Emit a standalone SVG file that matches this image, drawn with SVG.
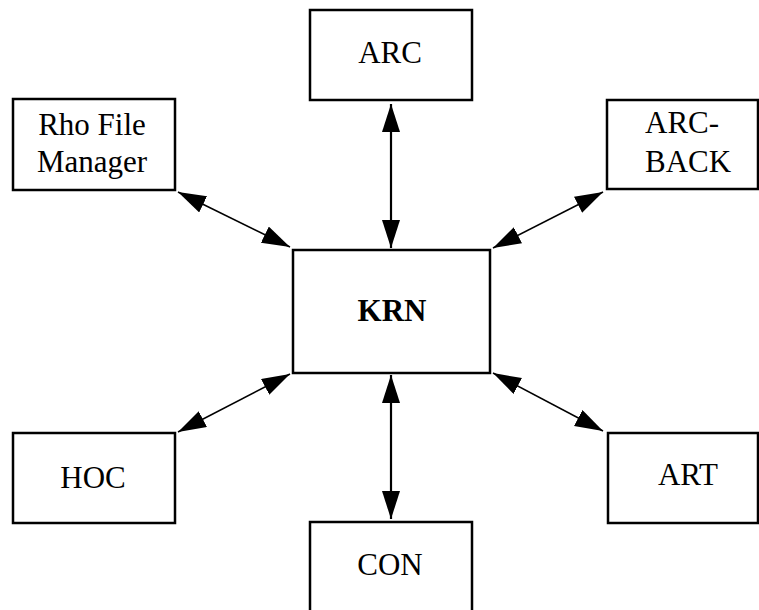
<svg xmlns="http://www.w3.org/2000/svg" width="759" height="610" viewBox="0 0 759 610">
  <style>
    .box { fill: #fff; stroke: #000; stroke-width: 2.5; }
    .lbl { font-family: "Liberation Serif", "Times New Roman", serif; font-size: 31px; fill: #000; }
    .mid { text-anchor: middle; }
    .bold { font-weight: bold; }
    .link { stroke: #000; stroke-width: 1.6; fill: none; marker-start: url(#head); marker-end: url(#head); }
    .vert { stroke-width: 2.2; }
  </style>
  <defs>
    <marker id="head" markerUnits="userSpaceOnUse" markerWidth="30" markerHeight="20" refX="28" refY="9" orient="auto-start-reverse">
      <path d="M0,0 L28,9 L0,18 z" fill="#000"/>
    </marker>
  </defs>
  <rect width="759" height="610" fill="#fff"/>

  <g id="connectors">
    <line class="link vert" x1="391" y1="104" x2="391" y2="248"/>
    <line class="link" x1="178" y1="192" x2="290" y2="247"/>
    <line class="link" x1="603" y1="192" x2="493" y2="248"/>
    <line class="link" x1="290" y1="374" x2="178" y2="432"/>
    <line class="link" x1="493" y1="373" x2="603" y2="431"/>
    <line class="link vert" x1="391" y1="375" x2="391" y2="519"/>
  </g>

  <g id="ARC">
    <rect class="box" x="310" y="10" width="162" height="90"/>
    <text class="lbl mid" x="390" y="63">ARC</text>
  </g>
  <g id="RhoFileManager">
    <rect class="box" x="13" y="99" width="162" height="91"/>
    <text class="lbl mid" x="92" y="135">Rho File</text>
    <text class="lbl mid" x="92" y="172">Manager</text>
  </g>
  <g id="ARC-BACK">
    <rect class="box" x="607" y="100" width="151" height="89"/>
    <text class="lbl" x="645" y="133">ARC-</text>
    <text class="lbl" x="645" y="172">BACK</text>
  </g>
  <g id="KRN">
    <rect class="box" x="293" y="250" width="197" height="123"/>
    <text class="lbl mid bold" x="392" y="321">KRN</text>
  </g>
  <g id="HOC">
    <rect class="box" x="13" y="433" width="162" height="90"/>
    <text class="lbl mid" x="93" y="488">HOC</text>
  </g>
  <g id="ART">
    <rect class="box" x="608" y="433" width="150" height="90"/>
    <text class="lbl mid" x="688" y="485">ART</text>
  </g>
  <g id="CON">
    <rect class="box" x="310" y="522" width="162" height="100"/>
    <text class="lbl mid" x="390" y="575">CON</text>
  </g>
</svg>
